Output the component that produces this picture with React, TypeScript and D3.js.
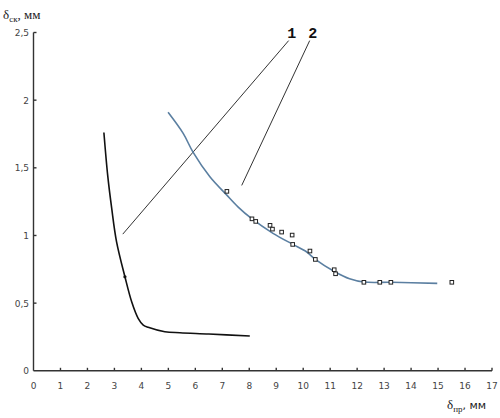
import React from "react";
import * as d3 from "d3";

const W = 500;
const H = 418;

// axis ticks
const xTicks = [0, 1, 2, 3, 4, 5, 6, 7, 8, 9, 10, 11, 12, 13, 14, 15, 16, 17];
const yTicks = [0, 0.5, 1, 1.5, 2, 2.5];
const yTickLabels = ["0", "0,5", "1", "1,5", "2", "2,5"];

// curve 1 (black)
const curve1X = [2.61, 2.75, 2.90, 3.08, 3.39, 3.64, 3.88, 4.07, 4.25, 4.87, 5.43, 6.5, 8.02];
const curve1Y = [1.761, 1.446, 1.20, 0.953, 0.695, 0.51, 0.388, 0.338, 0.321, 0.289, 0.281, 0.272, 0.257];
const curve1MarkerX = [3.39];
const curve1MarkerY = [0.695];

// curve 2 (blue)
const curve2X = [4.99, 5.55, 5.92, 6.54, 7.16, 7.59, 8.08, 8.88, 9.6, 10.12, 10.45, 11.17, 11.72, 12.25, 13.27, 14.97];
const curve2Y = [1.91, 1.754, 1.614, 1.434, 1.30, 1.21, 1.126, 1.016, 0.936, 0.88, 0.823, 0.732, 0.68, 0.656, 0.654, 0.646];

// experimental points (squares)
const pointsX = [7.17, 8.10, 8.24, 8.77, 8.86, 9.20, 9.59, 9.61, 10.25, 10.45, 11.15, 11.2, 12.25, 12.84, 13.25, 15.51];
const pointsY = [1.326, 1.123, 1.104, 1.075, 1.047, 1.025, 1.003, 0.934, 0.885, 0.823, 0.747, 0.717, 0.654, 0.654, 0.654, 0.654];

// leader lines for labels
const leaderLabels = ["1", "2"];
const leaderX1 = [9.46, 10.24];
const leaderY1 = [2.44, 2.44];
const leaderX2 = [3.31, 7.72];
const leaderY2 = [1.01, 1.37];

const x = d3.scaleLinear().domain([0, 17]).range([33.5, 492]);
const y = d3.scaleLinear().domain([0, 2.5]).range([370.8, 32.5]);

const smooth = d3
  .line<[number, number]>()
  .x((d) => x(d[0]))
  .y((d) => y(d[1]))
  .curve(d3.curveCatmullRom.alpha(0.5));

const zip = (a: number[], b: number[]): [number, number][] => a.map((v, i) => [v, b[i]]);

export default function App() {
  const axisColor = "#333";
  const tickFont = "'DejaVu Sans', Verdana, sans-serif";
  return (
    <svg
      width={W}
      height={H}
      style={{ position: "absolute", left: 0, top: 0, background: "#fff" }}
    >
      {/* axes */}
      <line x1={x(0)} x2={x(0)} y1={y(2.5)} y2={y(0)} stroke={axisColor} strokeWidth={1.4} />
      <line x1={x(0)} x2={x(17)} y1={y(0)} y2={y(0)} stroke={axisColor} strokeWidth={1.4} />
      {xTicks.map((t) => (
        <g key={"xt" + t}>
          {t > 0 && (
            <line x1={x(t)} x2={x(t)} y1={y(0)} y2={y(0) - 3} stroke={axisColor} strokeWidth={1.4} />
          )}
          <text
            x={x(t)}
            y={y(0) + 18}
            textAnchor="middle"
            fontFamily={tickFont}
            fontSize={9}
            fill="#444"
          >
            {String(t)}
          </text>
        </g>
      ))}
      {yTicks.map((t, i) => (
        <g key={"yt" + t}>
          {t > 0 && (
            <line x1={x(0)} x2={x(0) + 3} y1={y(t)} y2={y(t)} stroke={axisColor} strokeWidth={1.4} />
          )}
          <text
            x={29}
            y={y(t) + 3.5}
            textAnchor="end"
            fontFamily={tickFont}
            fontSize={9}
            fill="#444"
          >
            {yTickLabels[i]}
          </text>
        </g>
      ))}

      {/* axis titles */}
      <text x={3} y={19} fontFamily="'Liberation Serif', serif" fontSize={13} fill="#222">
        δ<tspan fontSize={9} dy={3}>ск</tspan>
        <tspan dy={-3}>, мм</tspan>
      </text>
      <text x={447} y={409} fontFamily="'Liberation Serif', serif" fontSize={13} fill="#222">
        δ<tspan fontSize={9} dy={3}>пр</tspan>
        <tspan dy={-3} fontFamily={tickFont} fontSize={11}>, мм</tspan>
      </text>

      {/* leader lines */}
      {leaderLabels.map((l, i) => (
        <g key={"ld" + l}>
          <line
            x1={x(leaderX1[i])}
            y1={y(leaderY1[i])}
            x2={x(leaderX2[i])}
            y2={y(leaderY2[i])}
            stroke="#333"
            strokeWidth={1}
          />
          <text
            x={x(leaderX1[i]) + 3}
            y={y(leaderY1[i]) - 3}
            textAnchor="middle"
            fontFamily="'Liberation Mono', 'DejaVu Sans Mono', monospace"
            fontWeight="bold"
            fontSize={15}
            fill="#111"
          >
            {l}
          </text>
        </g>
      ))}

      {/* curve 1 */}
      <path d={smooth(zip(curve1X, curve1Y)) || ""} fill="none" stroke="#111" strokeWidth={1.6} />
      {curve1MarkerX.map((v, i) => (
        <circle key={"m1" + i} cx={x(v)} cy={y(curve1MarkerY[i])} r={1.6} fill="#111" />
      ))}

      {/* curve 2 */}
      <path d={smooth(zip(curve2X, curve2Y)) || ""} fill="none" stroke="#5b7fa1" strokeWidth={1.6} />
      {pointsX.map((v, i) => (
        <rect
          key={"p" + i}
          x={x(v) - 1.8}
          y={y(pointsY[i]) - 1.8}
          width={3.6}
          height={3.6}
          fill="#fff"
          stroke="#222"
          strokeWidth={1}
        />
      ))}
    </svg>
  );
}
